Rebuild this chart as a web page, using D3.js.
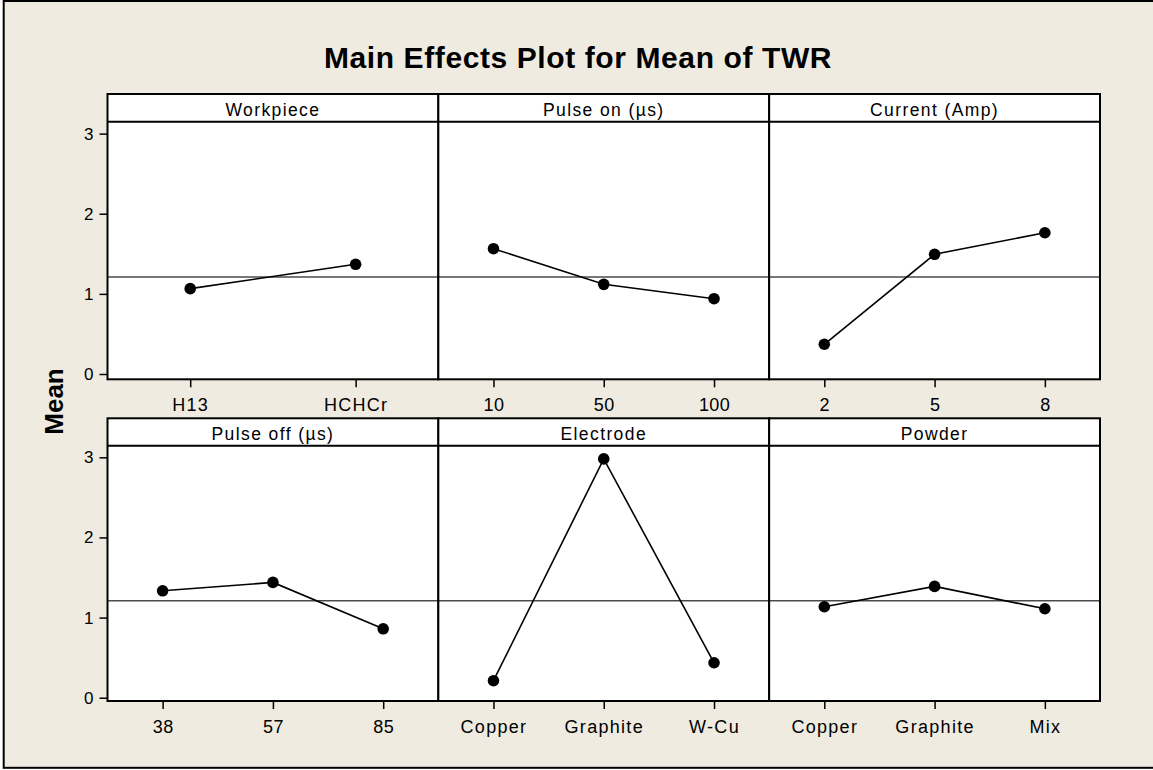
<!DOCTYPE html>
<html>
<head>
<meta charset="utf-8">
<script src="https://cdn.jsdelivr.net/npm/d3@7"></script>
<style>
  html, body { margin: 0; padding: 0; background: #ffffff; }
  svg { display: block; }
</style>
</head>
<body>
<div id="chart"></div>
<script>
// Main effects of each factor on mean TWR
const factors = ["Workpiece", "Pulse on (µs)", "Current (Amp)", "Pulse off (µs)", "Electrode", "Powder"];
const levelsWorkpiece = ["H13", "HCHCr"];
const levelsPulseOn = ["10", "50", "100"];
const levelsCurrent = ["2", "5", "8"];
const levelsPulseOff = ["38", "57", "85"];
const levelsElectrode = ["Copper", "Graphite", "W-Cu"];
const levelsPowder = ["Copper", "Graphite", "Mix"];

const meanWorkpiece = [1.065, 1.369];
const meanPulseOn = [1.564, 1.119, 0.94];
const meanCurrent = [0.371, 1.494, 1.763];
const meanPulseOff = [1.334, 1.439, 0.86];
const meanElectrode = [0.212, 2.98, 0.436];
const meanPowder = [1.135, 1.389, 1.11];

const grandMean = 1.21;
const yTicks = [0, 1, 2, 3];

const panels = [
  { name: factors[0], levels: levelsWorkpiece, means: meanWorkpiece },
  { name: factors[1], levels: levelsPulseOn, means: meanPulseOn },
  { name: factors[2], levels: levelsCurrent, means: meanCurrent },
  { name: factors[3], levels: levelsPulseOff, means: meanPulseOff },
  { name: factors[4], levels: levelsElectrode, means: meanElectrode },
  { name: factors[5], levels: levelsPowder, means: meanPowder }
];

const W = 1153, H = 770;
const bg = "#efebe1";
const fontFamily = "'Liberation Sans', Arial, sans-serif";

const svg = d3.select("#chart").append("svg")
  .attr("width", W).attr("height", H);

// outer frame
svg.append("rect").attr("x", 0).attr("y", 0).attr("width", W).attr("height", H).attr("fill", "#ffffff");
svg.append("rect")
  .attr("x", 3.7).attr("y", 1).attr("width", W + 20).attr("height", 766.8)
  .attr("fill", bg).attr("stroke", "#000").attr("stroke-width", 2);

// title
svg.append("text")
  .attr("x", 578).attr("y", 68.3)
  .attr("text-anchor", "middle")
  .attr("font-family", fontFamily).attr("font-weight", "bold")
  .attr("font-size", 30).attr("letter-spacing", 0.6)
  .text("Main Effects Plot for Mean of TWR");

// y-axis title
svg.append("text")
  .attr("transform", "translate(63,401.5) rotate(-90)")
  .attr("text-anchor", "middle")
  .attr("font-family", fontFamily).attr("font-weight", "bold")
  .attr("font-size", 26)
  .text("Mean");

const gridLeft = 107.5, gridRight = 1100;
const colW = (gridRight - gridLeft) / 3;
const unit = 80.13;
const rows = [
  { headerTop: 94, plotTop: 121.7, plotBottom: 379.3, zeroY: 374 },
  { headerTop: 418.3, plotTop: 445.7, plotBottom: 701, zeroY: 697.7 }
];

panels.forEach((p, i) => {
  const r = rows[Math.floor(i / 3)];
  const c = i % 3;
  const x0 = gridLeft + c * colW, x1 = x0 + colW;

  const y = d3.scaleLinear().domain([0, 3]).range([r.zeroY, r.zeroY - 3 * unit]);
  const x = d3.scalePoint().domain(p.levels).range([x0, x1]).padding(0.5);

  const g = svg.append("g");

  // plot area and header strip
  g.append("rect")
    .attr("x", x0).attr("y", r.headerTop).attr("width", colW).attr("height", r.plotBottom - r.headerTop)
    .attr("fill", "#fff");

  // grand mean reference line
  g.append("line")
    .attr("x1", x0).attr("x2", x1)
    .attr("y1", y(grandMean)).attr("y2", y(grandMean))
    .attr("stroke", "#4a4a4a").attr("stroke-width", 1.4);

  // x axis
  const xAxis = d3.axisBottom(x).tickSize(8).tickPadding(11);
  const xg = g.append("g").attr("transform", `translate(0,${r.plotBottom})`).call(xAxis);
  xg.select(".domain").remove();
  xg.selectAll(".tick line").attr("stroke", "#000").attr("stroke-width", 1.5);
  xg.selectAll(".tick text")
    .attr("font-family", fontFamily).attr("font-size", 18)
    .attr("letter-spacing", d => /^\d+$/.test(d) ? 0.4 : 1.3)
    .attr("fill", "#000");

  // y axis on the first column only
  if (c === 0) {
    const yAxis = d3.axisLeft(y).tickValues(yTicks).tickSize(8).tickPadding(6).tickFormat(d3.format("d"));
    const yg = g.append("g").attr("transform", `translate(${x0},0)`).call(yAxis);
    yg.select(".domain").remove();
    yg.selectAll(".tick line").attr("stroke", "#000").attr("stroke-width", 1.5);
    yg.selectAll(".tick text")
      .attr("font-family", fontFamily).attr("font-size", 17).attr("fill", "#000");
  }

  // means line and markers
  const pts = p.levels.map((lv, k) => [x(lv), y(p.means[k])]);
  g.append("path")
    .attr("d", d3.line()(pts))
    .attr("fill", "none").attr("stroke", "#000").attr("stroke-width", 1.6);
  g.selectAll("circle.pt").data(pts).enter().append("circle")
    .attr("class", "pt")
    .attr("cx", d => d[0]).attr("cy", d => d[1]).attr("r", 5.8)
    .attr("fill", "#000");

  // borders
  g.append("rect")
    .attr("x", x0).attr("y", r.headerTop).attr("width", colW).attr("height", r.plotBottom - r.headerTop)
    .attr("fill", "none").attr("stroke", "#000").attr("stroke-width", 2);
  g.append("line")
    .attr("x1", x0).attr("x2", x1).attr("y1", r.plotTop).attr("y2", r.plotTop)
    .attr("stroke", "#000").attr("stroke-width", 2);

  // factor name in header strip
  g.append("text")
    .attr("x", (x0 + x1) / 2).attr("y", r.headerTop + 21.5)
    .attr("text-anchor", "middle")
    .attr("font-family", fontFamily).attr("font-size", 17.5)
    .attr("letter-spacing", 1.4)
    .text(p.name);
});
</script>
</body>
</html>
